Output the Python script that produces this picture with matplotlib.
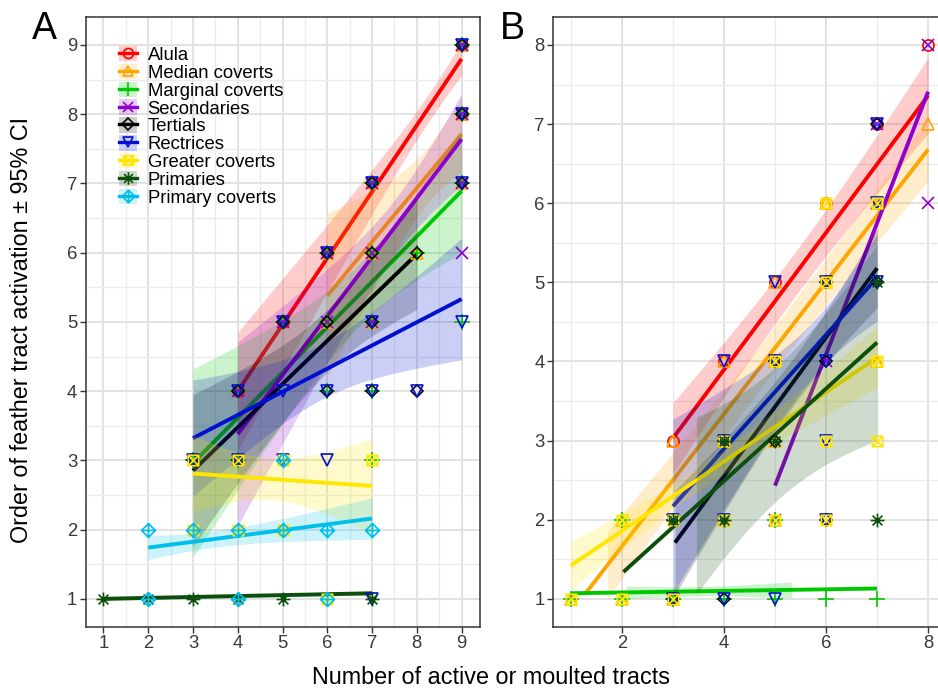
import numpy as np
import matplotlib
matplotlib.use("Agg")
import matplotlib.pyplot as plt
from matplotlib.path import Path
from matplotlib.patches import Patch
from matplotlib.lines import Line2D
from matplotlib.ticker import MultipleLocator

plt.rcParams['font.family'] = ['Liberation Sans', 'DejaVu Sans']

# ---------------- data ----------------
SERIES = ["Alula", "Median coverts", "Marginal coverts", "Secondaries", "Tertials",
          "Rectrices", "Greater coverts", "Primaries", "Primary coverts"]

# Panel A observed points (number of active tracts, order of activation)
A_ALULA = [(4, 4), (5, 5), (6, 6), (7, 7), (9, 9), (9, 8)]
A_MEDIAN = [(6, 6), (6, 5), (7, 7), (7, 6), (7, 5), (8, 6), (9, 9), (9, 8), (9, 7)]
A_MARGINAL = [(3, 3), (4, 4), (4, 3), (5, 5), (6, 6), (6, 5), (6, 4), (7, 7), (7, 6), (7, 5),
              (7, 4), (7, 3), (8, 6), (9, 9), (9, 8), (9, 7), (9, 5)]
A_SECONDARIES = [(4, 4), (4, 3), (5, 5), (6, 6), (6, 5), (7, 7), (7, 6), (7, 5), (9, 9), (9, 8),
                 (9, 7), (9, 6)]
A_TERTIALS = [(3, 3), (4, 4), (4, 3), (5, 5), (6, 6), (6, 5), (6, 4), (7, 7), (7, 6), (7, 5),
              (7, 4), (8, 6), (8, 4), (9, 9), (9, 8), (9, 7)]
A_RECTRICES = [(3, 3), (4, 4), (4, 3), (5, 5), (5, 4), (5, 3), (6, 6), (6, 4), (6, 3), (7, 7),
               (7, 5), (7, 4), (7, 1), (8, 4), (9, 9), (9, 8), (9, 7), (9, 5)]
A_GREATER = [(3, 3), (3, 2), (4, 3), (4, 2), (5, 3), (5, 2), (6, 1), (7, 3)]
A_PRIMARIES = [(1, 1), (2, 1), (3, 1), (4, 1), (5, 1), (7, 1)]
A_PRIM_COVERTS = [(2, 2), (2, 1), (3, 2), (4, 2), (4, 1), (5, 3), (5, 2), (6, 2), (6, 1), (7, 2)]

# Panel B observed points
B_ALULA = [(3, 3), (4, 4), (5, 5), (6, 6), (7, 7), (8, 8)]
B_MEDIAN = [(1, 1), (2, 1), (2, 2), (3, 1), (3, 3), (4, 2), (4, 3), (4, 4), (5, 2), (5, 3),
            (5, 4), (5, 5), (6, 5), (6, 6), (7, 4), (7, 6), (8, 7)]
B_MARGINAL = [(1, 1), (2, 1), (3, 1), (4, 1), (5, 1), (6, 1), (7, 1), (2, 2), (5, 2)]
B_SECONDARIES = [(5, 2), (6, 4), (7, 7), (7, 6), (8, 8), (8, 6)]
B_TERTIALS = [(3, 1), (3, 2), (4, 1), (4, 3), (5, 3), (5, 4), (6, 2), (6, 4), (6, 5), (7, 5), (7, 7)]
B_RECTRICES = [(3, 1), (3, 2), (4, 1), (4, 2), (4, 3), (4, 4), (5, 1), (5, 4), (5, 5), (6, 2),
               (6, 3), (6, 4), (6, 5), (7, 5), (7, 6), (7, 7)]
B_GREATER = [(1, 1), (2, 1), (2, 2), (3, 1), (3, 2), (4, 2), (4, 3), (5, 2), (5, 4), (6, 2),
             (6, 3), (6, 5), (6, 6), (7, 3), (7, 4), (7, 6)]
B_PRIMARIES = [(3, 2), (4, 2), (4, 3), (5, 3), (7, 2), (7, 5)]
B_PRIM_COVERTS = []

# Fitted regression lines (visible ends) and 95% CI half-widths, in SERIES order
A_LINE_X0 = [4, 6, 3, 4, 3, 3, 3, 1, 2]
A_LINE_X1 = [9, 9, 9, 9, 8, 9, 7, 7, 7]
A_LINE_Y0 = [4.00, 5.38, 2.96, 3.38, 2.85, 3.32, 2.81, 1.00, 1.74]
A_LINE_Y1 = [8.80, 7.71, 6.89, 7.64, 5.98, 5.33, 2.63, 1.08, 2.16]
A_BAND_X0 = [4, 6, 3, 4, 3, 3, 3, 1, 2]
A_BAND_X1 = [9, 9, 9, 9, 8, 9, 7, 7, 7]
A_CI_START = [0.85, 1.19, 1.36, 1.33, 1.10, 0.84, 0.55, 0.03, 0.17]
A_CI_MIN = [0.20, 0.40, 0.45, 0.40, 0.45, 0.40, 0.30, 0.02, 0.12]
A_CI_END = [0.24, 0.55, 0.90, 0.66, 0.80, 0.88, 0.68, 0.03, 0.30]

B_LINE_X0 = [3.0, 1.29, 1.0, 5.0, 3.04, 3.0, 1.0, 2.03, None]
B_LINE_X1 = [8, 8, 7, 8, 7, 7, 7, 7, None]
B_LINE_Y0 = [3.03, 1.07, 1.07, 2.43, 1.71, 2.17, 1.42, 1.34, None]
B_LINE_Y1 = [7.36, 6.68, 1.13, 7.41, 5.18, 5.06, 4.05, 4.24, None]
B_BAND_X0 = [3.0, 1.72, 2.08, None, 3.04, 3.0, 1.0, 3.46, None]
B_BAND_X1 = [8, 8, 5.33, None, 7, 7, 7, 7, None]
B_CI_START = [0.45, 0.43, 0.08, None, 0.66, 1.10, 0.30, 1.12, None]
B_CI_MIN = [0.28, 0.28, 0.06, None, 0.30, 0.35, 0.15, 0.85, None]
B_CI_END = [0.48, 0.40, 0.10, None, 0.50, 0.55, 0.38, 1.24, None]

A_XTICKS = [1, 2, 3, 4, 5, 6, 7, 8, 9]
A_YTICKS = [1, 2, 3, 4, 5, 6, 7, 8, 9]
B_XTICKS = [2, 4, 6, 8]
B_YTICKS = [1, 2, 3, 4, 5, 6, 7, 8]

# ---------------- styles ----------------
COLORS = ["#FF0000", "#FFA500", "#00C800", "#8E00CC", "#000000",
          "#0010D0", "#FFE600", "#0B4F0B", "#00BFEA"]


def _path(polys, segs):
    verts, codes = [], []
    for poly in polys:
        verts += poly + [poly[0]]
        codes += [Path.MOVETO] + [Path.LINETO] * (len(poly) - 1) + [Path.CLOSEPOLY]
    for a, b in segs:
        verts += [a, b]
        codes += [Path.MOVETO, Path.LINETO]
    return Path(verts, codes)


d = 0.707
SQ_CROSS = _path([[(-1, -1), (1, -1), (1, 1), (-1, 1)]], [((-1, -1), (1, 1)), ((-1, 1), (1, -1))])
ASTERISK = _path([], [((-1, 0), (1, 0)), ((0, -1), (0, 1)), ((-d, -d), (d, d)), ((-d, d), (d, -d))])
DIAM_PLUS = _path([[(0, -1), (1, 0), (0, 1), (-1, 0)]], [((-1, 0), (1, 0)), ((0, -1), (0, 1))])

MARKERS = ['o', '^', '+', 'x', 'D', 'v', SQ_CROSS, ASTERISK, DIAM_PLUS]
MSIZES = [8, 8, 11, 8, 6.5, 8, 7.5, 10, 10]

A_POINTS = [A_ALULA, A_MEDIAN, A_MARGINAL, A_SECONDARIES, A_TERTIALS, A_RECTRICES,
            A_GREATER, A_PRIMARIES, A_PRIM_COVERTS]
B_POINTS = [B_ALULA, B_MEDIAN, B_MARGINAL, B_SECONDARIES, B_TERTIALS, B_RECTRICES,
            B_GREATER, B_PRIMARIES, B_PRIM_COVERTS]


def band_halfwidth(x, bx0, bx1, w0, wm, w1):
    a = wm ** 2
    d0 = max(w0 ** 2 - a, 1e-9)
    d1 = max(w1 ** 2 - a, 1e-9)
    r = np.sqrt(d0 / d1)
    xc = (bx0 + r * bx1) / (1 + r)
    b = d0 / max((xc - bx0) ** 2, 1e-9)
    return np.sqrt(a + b * (x - xc) ** 2)


fig = plt.figure(figsize=(9.38, 6.95), dpi=100)
W, H = 938.0, 695.0
axA = fig.add_axes([85.5 / W, (H - 626.5) / H, 394.0 / W, 609.2 / H])
axB = fig.add_axes([553.0 / W, (H - 626.5) / H, 393.0 / W, 609.2 / H])


def draw_panel(ax, points, lx0, lx1, ly0, ly1, bx0, bx1, c0, cm, c1):
    for i in range(len(SERIES)):
        col = COLORS[i]
        z = 2 + i * 0.1
        if bx0[i] is not None:
            xs = np.linspace(bx0[i], bx1[i], 60)
            yc = np.interp(xs, [lx0[i], lx1[i]], [ly0[i], ly1[i]])
            hw = band_halfwidth(xs, bx0[i], bx1[i], c0[i], cm[i], c1[i])
            ax.fill_between(xs, yc - hw, yc + hw, color=col, alpha=0.2, lw=0, zorder=z)
        if lx0[i] is not None:
            ax.plot([lx0[i], lx1[i]], [ly0[i], ly1[i]], color=col, lw=2.8,
                    solid_capstyle='butt', zorder=z + 0.05)
    for i in range(len(SERIES)):
        pts = points[i]
        if not pts:
            continue
        xs = [p[0] for p in pts]
        ys = [p[1] for p in pts]
        ax.plot(xs, ys, ls='none', marker=MARKERS[i], ms=MSIZES[i], mfc='none',
                mec=COLORS[i], mew=1.2, zorder=5 + i * 0.1)


draw_panel(axA, A_POINTS, A_LINE_X0, A_LINE_X1, A_LINE_Y0, A_LINE_Y1,
           A_BAND_X0, A_BAND_X1, A_CI_START, A_CI_MIN, A_CI_END)
draw_panel(axB, B_POINTS, B_LINE_X0, B_LINE_X1, B_LINE_Y0, B_LINE_Y1,
           B_BAND_X0, B_BAND_X1, B_CI_START, B_CI_MIN, B_CI_END)

axA.set_xlim(0.6, 9.4)
axA.set_ylim(0.6, 9.4)
axA.set_xticks(A_XTICKS)
axA.set_yticks(A_YTICKS)
axA.xaxis.set_minor_locator(MultipleLocator(0.5))
axA.yaxis.set_minor_locator(MultipleLocator(0.5))

axB.set_xlim(0.65, 8.35)
axB.set_ylim(0.65, 8.35)
axB.set_xticks(B_XTICKS)
axB.set_yticks(B_YTICKS)
axB.xaxis.set_minor_locator(MultipleLocator(1))
axB.yaxis.set_minor_locator(MultipleLocator(0.5))

for ax in (axA, axB):
    ax.grid(True, which='major', color='#E2E2E2', lw=1.4, zorder=0)
    ax.grid(True, which='minor', color='#EBEBEB', lw=1.0, zorder=0)
    ax.set_axisbelow(True)
    for s in ax.spines.values():
        s.set_color('#333333')
        s.set_linewidth(1.1)
    ax.tick_params(which='major', length=4, width=1.0, color='#333333',
                   labelsize=13.3, labelcolor='#3A3A3A', pad=2)
    ax.tick_params(which='minor', length=0)

handles = []
for i, name in enumerate(SERIES):
    handles.append((Patch(fc=COLORS[i], alpha=0.2, ec='none'),
                    Line2D([], [], color=COLORS[i], lw=2.4, marker=MARKERS[i],
                           ms=MSIZES[i] * 0.9, mfc='none', mec=COLORS[i], mew=1.2)))
axA.legend(handles, SERIES, loc='upper left', bbox_to_anchor=(0.085, 0.953),
           frameon=False, fontsize=13.3, handlelength=0.95, handleheight=0.9,
           handletextpad=0.6, labelspacing=-0.01, borderpad=0, borderaxespad=0)

fig.text(32 / W, 1 - 39 / H, "A", fontsize=27, ha='left', va='baseline')
fig.text(500 / W, 1 - 39 / H, "B", fontsize=27, ha='left', va='baseline')

fig.text(491 / W, 1 - 678 / H, "Number of active or moulted tracts", fontsize=16.8,
         ha='center', va='center')
fig.text(22 / W, 1 - 330 / H, "Order of feather tract activation \u00b1 95% CI", fontsize=16.8,
         ha='center', va='center', rotation=90)

fig.savefig("out.png", dpi=100)
